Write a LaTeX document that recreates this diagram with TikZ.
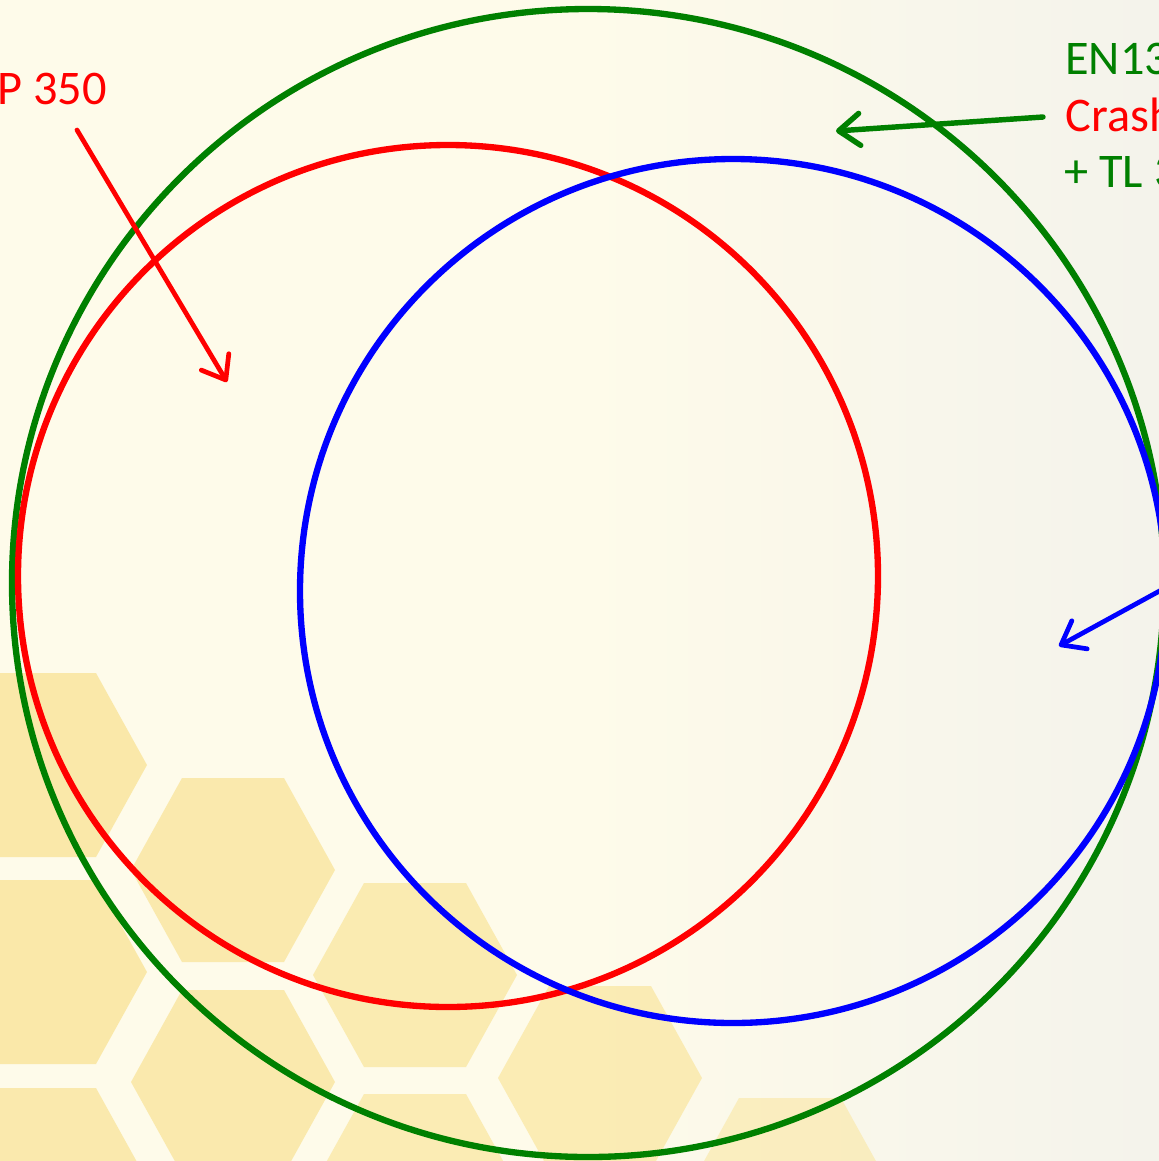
\documentclass[tikz,border=0pt]{standalone}
\usepackage{fontspec}
\setmainfont{Carlito}
\usepackage{tikz}
\usetikzlibrary{positioning, calc, arrows.meta}
\definecolor{ring_green}{RGB}{0,128,0}
\definecolor{ring_red}{RGB}{255,0,0}
\definecolor{ring_blue}{RGB}{0,0,255}
\definecolor{cream_left}{RGB}{254,251,234}
\definecolor{cream_right}{RGB}{244,243,235}
\definecolor{honey}{RGB}{250,231,163}
\tikzstyle{ring} = [line width=3.6pt]
\tikzstyle{tag_text} = [font=\fontsize{27.5}{32}\selectfont, inner sep=0pt, anchor=base west]
\tikzstyle{pointer} = [line width=2.7pt, line cap=round, -{Straight Barb[length=4.2mm, width=6.4mm, line cap=round, line join=round]}]
\tikzstyle{hex} = [fill=honey, draw=none]

\begin{document}
\begin{tikzpicture}[x=0.02cm, y=-0.02cm]

    % background
    \useasboundingbox (0,0) rectangle (1159,1161);
    \clip (0,0) rectangle (1159,1161);
    \shade[left color=cream_left, right color=cream_right, middle color=cream_left] (0,0) rectangle (1159,1161);

    % honeycomb
    \foreach \cx/\cy/\op in {45/765/0.9, 45/972/0.9, 45/1180/0.85, 233/870/0.85, 233/1082/0.85,
                             415/975/0.8, 415/1186/0.75, 600/1078/0.75, 790/1190/0.6} {
        \fill[hex, opacity=\op] ({\cx-102},\cy) -- ({\cx-51},{\cy-92}) -- ({\cx+51},{\cy-92})
            -- ({\cx+102},\cy) -- ({\cx+51},{\cy+92}) -- ({\cx-51},{\cy+92}) -- cycle;
    }

    % circles
    \coordinate (green_center) at (588,583);
    \coordinate (red_center) at (448,576);
    \coordinate (blue_center) at (733,591);
    \draw[ring, ring_green] (green_center) ellipse [x radius=576, y radius=574];
    \draw[ring, ring_red] (red_center) ellipse [x radius=430, y radius=431];
    \draw[ring, ring_blue] (blue_center) ellipse [x radius=433, y radius=432];

    % labels
    \node[tag_text, text=ring_red] (p350_text) at (-3,104) {P 350};
    \node[tag_text, text=ring_green] (en_text) at (1065,74) {EN13};
    \node[tag_text, text=ring_red] (crash_text) at (1065,131) {Crash};
    \node[tag_text, text=ring_green] (tl_text) at (1064,187) {+ TL 3};

    % arrows
    \coordinate (p350_tail) at (77,130);
    \coordinate (p350_head) at (227,382);
    \draw[pointer, ring_red] (p350_tail) -- (p350_head);

    \coordinate (crash_tail) at (1043,117);
    \coordinate (crash_head) at (836,131);
    \draw[pointer, ring_green, line width=3.1pt] (crash_tail) -- (crash_head);

    \coordinate (blue_tail) at (1165,588);
    \coordinate (blue_head) at (1059,646);
    \draw[pointer, ring_blue] (blue_tail) -- (blue_head);
\end{tikzpicture}
\end{document}
